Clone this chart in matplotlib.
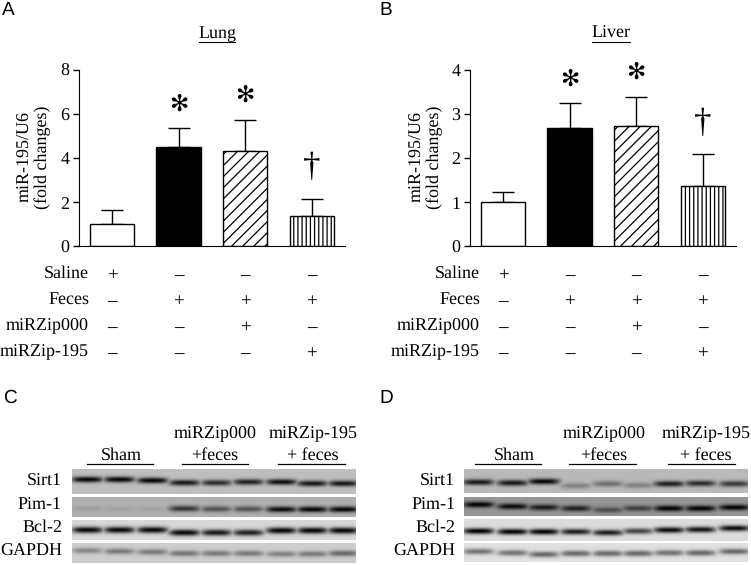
import numpy as np
import matplotlib
matplotlib.use('Agg')
import matplotlib.pyplot as plt
from matplotlib.lines import Line2D
from matplotlib.transforms import blended_transform_factory

# bar values
lung_vals = [1.0, 4.5, 4.33, 1.4]
lung_tops = [1.67, 5.35, 5.75, 2.15]
liver_vals = [1.0, 2.68, 2.72, 1.37]
liver_tops = [1.23, 3.25, 3.39, 2.09]

row_names = ['Saline', 'Feces', 'miRZip000', 'miRZip-195']
row_signs = [['+', '–', '–', '–'],
             ['–', '+', '+', '+'],
             ['–', '–', '+', '–'],
             ['–', '–', '–', '+']]

blot_names = ['Sirt1', 'Pim-1', 'Bcl-2', 'GAPDH']
# band darkness per lane (0-1) and band height in the strip
c_strength = [[.98, .98, .98, .88, .78, .84, .94, .88, .88],
              [.10, .07, .07, .72, .55, .55, .95, .98, .98],
              [1.0, 1.0, 1.0, 1.0, .92, .88, 1.0, 1.0, 1.0],
              [.35, .42, .42, .45, .42, .42, .38, .42, .50]]
c_ypos = [[.42, .42, .46, .55, .55, .52, .52, .58, .58],
          [.58, .60, .60, .58, .60, .60, .62, .62, .62],
          [.52, .52, .52, .65, .65, .65, .55, .55, .55],
          [.38, .42, .45, .52, .52, .52, .55, .55, .52]]
c_bg = [190, 175, 215, 205]
d_strength = [[.88, .88, .98, .30, .40, .30, .85, .78, .70],
              [1.0, .95, .85, .80, .50, .60, 1.0, 1.0, 1.0],
              [1.0, 1.0, 1.0, .88, .88, .70, .95, .92, .95],
              [.50, .50, .55, .55, .55, .55, .50, .55, .55]]
d_ypos = [[.55, .58, .52, .70, .62, .68, .62, .60, .62],
          [.40, .50, .55, .60, .68, .60, .60, .60, .55],
          [.55, .58, .58, .58, .62, .55, .50, .48, .42],
          [.45, .52, .60, .55, .55, .55, .52, .52, .45]]
d_bg = [185, 150, 220, 225]

W, H = 751, 565
plt.rcParams['font.family'] = 'Liberation Serif'
plt.rcParams['hatch.linewidth'] = 0.9
plt.rcParams['text.hinting'] = 'no_hinting'
plt.rcParams['text.hinting_factor'] = 1
fig = plt.figure(figsize=(W / 100, H / 100), dpi=100)


def axes_px(x0, y0, x1, y1):
    return fig.add_axes([x0 / W, 1 - y1 / H, (x1 - x0) / W, (y1 - y0) / H])


def text_px(x, y, s, **kw):
    kw.setdefault('ha', 'center')
    kw.setdefault('va', 'center')
    fig.text(x / W, 1 - y / H, s, **kw)


def line_px(x0, x1, y, lw=1.0):
    fig.add_artist(Line2D([x0 / W, x1 / W], [1 - y / H, 1 - y / H], color='k', lw=lw))


def bar_panel(left, right, ymax, yticks, vals, tops, title, title_x, title_w, ylab_x, name_x, star_y, dag_y):
    ax = axes_px(left, 70, right, 246.5)
    xs = np.arange(4)
    styles = [dict(facecolor='white'), dict(facecolor='black'),
              dict(facecolor='white', hatch='///'), dict(facecolor='white', hatch='||||')]
    for x, v, t, st in zip(xs, vals, tops, styles):
        ax.errorbar(x, v, yerr=[[0], [t - v]], color='k', lw=1.0, capsize=8.2, capthick=1.0, zorder=1)
        ax.bar(x, v, width=0.665, edgecolor='black', linewidth=1.0, zorder=2, **st)
    ax.set_xlim(-0.495, 3.5)
    ax.set_ylim(0, ymax)
    ax.set_yticks(yticks)
    ax.set_xticks([])
    ax.tick_params(axis='y', length=4, width=1, labelsize=13, pad=3)
    ax.spines['top'].set_visible(False)
    ax.spines['right'].set_visible(False)
    ax.patch.set_alpha(0)

    ax.text(1, star_y[0], '✻', family='DejaVu Sans', fontsize=16.5, ha='center', va='center', clip_on=False)
    ax.text(2, star_y[1], '✻', family='DejaVu Sans', fontsize=16.5, ha='center', va='center', clip_on=False)
    ax.text(3, dag_y, '†', fontsize=25, ha='center', va='center')

    text_px(title_x, 34, title, fontsize=12.8)
    line_px(title_x - title_w / 2, title_x + title_w / 2, 41.5, 0.8)
    text_px(ylab_x, 157, 'miR-195/U6\n(fold changes)', rotation=90, fontsize=12.8,
            linespacing=1.1, ma='center')

    trans = blended_transform_factory(ax.transData, fig.transFigure)
    for row_y, name, signs in zip([273, 299, 325, 351], row_names, row_signs):
        text_px(name_x, row_y + 1, name, fontsize=12.8, ha='right')
        for x, s in zip(xs, signs):
            ax.text(x, 1 - (row_y + 2.5) / H, s, transform=trans, fontsize=14, ha='center', va='center', clip_on=False)


def blot_strip(x0, x1, y0, y1, lanes, strength, ypos, bg):
    # one grey strip, dark bands drawn from the per lane values
    ny, nx = int(y1 - y0), int(x1 - x0)
    xx = np.arange(nx) + x0
    yy = (np.arange(ny) + 0.5) / ny
    img = np.full((ny, nx), float(bg))
    dark = np.zeros((ny, nx))
    for lx, s, p in zip(lanes, strength, ypos):
        col = np.exp(-((xx - lx) / 15.5) ** 4)
        row = np.exp(-((yy - p) * ny / 3.0) ** 2)
        dark = np.maximum(dark, s * np.outer(row, col))
    img = img * (1 - dark) + 5 * dark
    ax = axes_px(x0, y0, x1, y1)
    ax.imshow(img, cmap='gray', vmin=0, vmax=255, aspect='auto', interpolation='bilinear')
    ax.axis('off')


def blot_panel(x0, x1, strips, lanes, strength, ypos, bg, name_x, heads):
    for (y0, y1), st, yp, b in zip(strips, strength, ypos, bg):
        blot_strip(x0, x1, y0, y1, lanes, st, yp, b)
    for y, name in zip([482, 505, 528, 552], blot_names):
        text_px(name_x, y, name, fontsize=12.7, ha='right')
    for lo, hi, top, low, cx in heads:
        if top:
            text_px(cx, 434, top, fontsize=12.7)
        text_px(cx, 455, low, fontsize=12.7)
        line_px(lo, hi, 464, 0.9)


bar_panel(79, 345, 8, [0, 2, 4, 6, 8], lung_vals, lung_tops, 'Lung', 217, 36, 34, 89, (6.43, 6.84), 3.57)
bar_panel(470, 736, 4, [0, 1, 2, 3, 4], liver_vals, liver_tops, 'Liver', 611, 38, 426, 480, (3.78, 3.95), 2.78)

strips_c = [(469, 494), (497, 517), (520, 540), (543, 563)]
strips_d = [(469, 493), (497, 516), (519, 541), (543, 562)]
lanes_c = [87, 119, 152, 184, 216, 248, 281, 312, 343]
lanes_d = [478, 512, 543, 575, 607, 637, 668, 699, 733]
blot_panel(72, 356, strips_c, lanes_c, c_strength, c_ypos, c_bg, 62,
           [(87, 153, '', 'Sham', 121), (182, 248, 'miRZip000', '+feces', 215), (278, 345, 'miRZip-195', '+ feces', 313)])
blot_panel(464, 747, strips_d, lanes_d, d_strength, d_ypos, d_bg, 455,
           [(475, 541, '', 'Sham', 514), (569, 636, 'miRZip000', '+feces', 604), (668, 735, 'miRZip-195', '+ feces', 706)])

for x, y, s in [(2, 10, 'A'), (379, 10, 'B'), (3, 398, 'C'), (379, 398, 'D')]:
    text_px(x, y, s, family='Liberation Sans', fontsize=13.5, ha='left')

fig.savefig('out.png', dpi=100)
